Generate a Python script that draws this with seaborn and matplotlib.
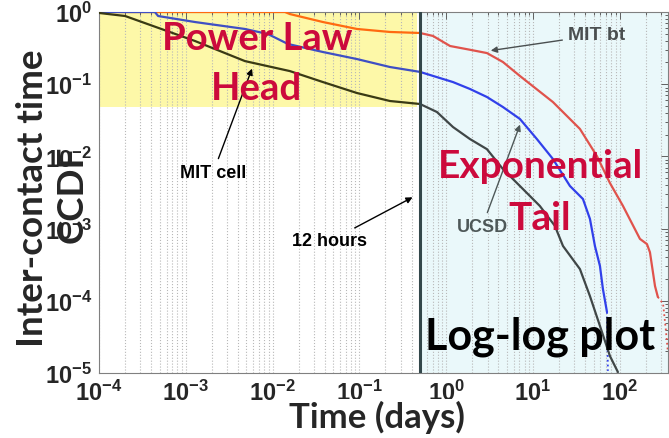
import matplotlib
matplotlib.use("Agg")
import matplotlib.pyplot as plt
import seaborn as sns
import pandas as pd
from matplotlib.patches import Rectangle
from matplotlib.ticker import LogLocator, NullFormatter

# ---------------- data ----------------
mit_cell_t = [1.0e-4, 2.0e-4, 1.28e-3, 4.8e-3, 0.0158, 0.0381, 0.0938, 0.225, 0.50,
              0.783, 1.20, 1.88, 2.95, 4.51, 7.08, 12.0, 17.9, 22.2, 34.8, 45.4,
              59.2, 77.1, 95.3]
mit_cell_p = [0.97, 0.88, 0.396, 0.209, 0.152, 0.107, 0.0755, 0.0585, 0.0532,
              0.0412, 0.0255, 0.0174, 0.0126, 0.00668, 0.00389, 0.00206, 0.00109,
              5.74e-4, 2.75e-4, 1.16e-4, 4.48e-5, 1.72e-5, 1.03e-5]

ucsd_t = [1.0e-4, 4.4e-4, 4.8e-4, 1.28e-3, 4.8e-3, 8.85e-3, 0.0150, 0.0381, 0.0938,
          0.225, 0.50, 1.20, 1.88, 2.95, 4.51, 7.08, 11.1, 17.0, 26.7, 37.7, 45.4,
          51.8, 59.2, 64.0, 71.3, 73.1]
ucsd_p = [1.0, 1.0, 0.88, 0.726, 0.582, 0.495, 0.361, 0.279, 0.223, 0.173, 0.148,
          0.107, 0.0859, 0.0665, 0.0483, 0.0330, 0.0174, 0.0092, 0.00389, 0.00257,
          0.00136, 5.74e-4, 3.03e-4, 1.46e-4, 7.0e-5, 1.07e-5]

mit_bt_t = [1.0e-4, 0.0139, 0.0158, 0.0381, 0.0938, 0.225, 0.50, 0.705, 1.11, 1.88,
            2.95, 4.51, 7.08, 17.0, 34.8, 54.6, 77.1, 109.0, 171.0, 206.0, 223.0,
            255.0, 275.0, 316.0, 339.0, 359.0]
mit_bt_p = [1.0, 1.0, 0.937, 0.726, 0.582, 0.529, 0.512, 0.466, 0.338, 0.30, 0.27,
            0.203, 0.130, 0.0566, 0.0240, 0.0101, 0.00428, 0.00206, 7.2e-4, 6.1e-4,
            4.7e-4, 1.6e-4, 1.13e-4, 9.1e-5, 4.1e-5, 1.95e-5]

# number of trailing points drawn as a dotted tail
ucsd_dotted = 1
mit_bt_dotted = 3

x_ticks = [1e-4, 1e-3, 1e-2, 1e-1, 1e0, 1e1, 1e2]
y_ticks = [1e-5, 1e-4, 1e-3, 1e-2, 1e-1, 1e0]
split_day = 0.5          # 12 hours
head_floor = 0.048       # bottom of the power-law head box

# ---------------- style ----------------
sns.set_theme(style="white")
plt.rcParams['font.family'] = ['Liberation Sans', 'DejaVu Sans']
plt.rcParams['font.weight'] = 'bold'
plt.rcParams['mathtext.fontset'] = 'custom'
plt.rcParams['mathtext.rm'] = 'Liberation Sans:bold'
plt.rcParams['mathtext.it'] = 'Liberation Sans:bold'
plt.rcParams['mathtext.bf'] = 'Liberation Sans:bold'

W, H = 669, 439
fig = plt.figure(figsize=(W / 100, H / 100), dpi=100)
ax = fig.add_axes([99 / W, 1 - 374 / H, (668 - 99) / W, (374 - 13) / H])
ax.set_xscale('log')
ax.set_yscale('log')
ax.set_xlim(1e-4, 360)
ax.set_ylim(1e-5, 1.0)


def fp(x, y):
    return (x / W, 1 - y / H)


# shaded regions
ax.add_patch(Rectangle((1e-4, head_floor), 0.46 - 1e-4, 1.0 - head_floor,
                       facecolor='#FDF8A8', edgecolor='none', zorder=0.5))
ax.add_patch(Rectangle((split_day, 1e-5), 360 - split_day, 1.0,
                       facecolor='#EAF8FA', edgecolor='none', zorder=0.5))

ax.grid(True, axis='x', which='both', linestyle=':', color='#b8b8b8', lw=0.8, zorder=1)
ax.grid(False, axis='y')


def draw(ts, ps, c_head, c_tail, n_dot=0, lw=1.6):
    head = pd.DataFrame({'t': [t for t in ts if t <= split_day],
                         'p': [p for t, p in zip(ts, ps) if t <= split_day]})
    tail_t = [t for t in ts if t >= split_day]
    tail_p = [p for t, p in zip(ts, ps) if t >= split_day]
    n = len(tail_t)
    solid = pd.DataFrame({'t': tail_t[:n - n_dot], 'p': tail_p[:n - n_dot]})
    sns.lineplot(data=head, x='t', y='p', ax=ax, color=c_head, lw=lw,
                 estimator=None, sort=False, zorder=3)
    sns.lineplot(data=solid, x='t', y='p', ax=ax, color=c_tail, lw=lw,
                 estimator=None, sort=False, zorder=3)
    if n_dot:
        dot = pd.DataFrame({'t': tail_t[n - n_dot - 1:], 'p': tail_p[n - n_dot - 1:]})
        sns.lineplot(data=dot, x='t', y='p', ax=ax, color=c_tail, lw=1.3,
                     linestyle=':', estimator=None, sort=False, zorder=3)


draw(mit_bt_t, mit_bt_p, '#FF6A10', '#E0534C', mit_bt_dotted)
draw(ucsd_t, ucsd_p, '#3F4FC4', '#3140EA', ucsd_dotted)
draw(mit_cell_t, mit_cell_p, '#3A3A14', '#404747', 0)

ax.axvline(split_day, color='#33474A', lw=2.2, zorder=4)

# axes styling
ax.set_xticks(x_ticks)
ax.set_yticks(y_ticks)
ax.xaxis.set_minor_locator(LogLocator(base=10, subs=range(2, 10), numticks=20))
ax.yaxis.set_minor_locator(LogLocator(base=10, subs=range(2, 10), numticks=20))
ax.xaxis.set_minor_formatter(NullFormatter())
ax.yaxis.set_minor_formatter(NullFormatter())
ax.tick_params(which='both', direction='in', top=True, right=True,
               color='#606060', width=0.7)
ax.tick_params(which='major', length=5, labelsize=17)
ax.tick_params(which='minor', length=2.5)
ax.tick_params(axis='x', which='major', pad=5)
ax.tick_params(axis='y', which='major', pad=5)
for lab in ax.get_xticklabels() + ax.get_yticklabels():
    lab.set_fontweight('bold')
for s in ax.spines.values():
    s.set_color('#808080')
    s.set_linewidth(0.8)
ax.set_xlabel('')
ax.set_ylabel('')

# axis titles
big = ['Lato', 'DejaVu Sans']
fig.text(*fp(43, 198), 'Inter-contact time', rotation=90, rotation_mode='anchor',
         ha='center', va='baseline', fontsize=26.5, fontweight='bold', family=big)
fig.text(*fp(83, 194), 'CCDF', rotation=90, rotation_mode='anchor',
         ha='center', va='baseline', fontsize=26.5, fontweight='bold', family=big)
fig.text(*fp(377, 428), 'Time (days)', ha='center', va='baseline',
         fontsize=25, fontweight='bold', family=big, zorder=20,
         bbox=dict(facecolor='white', edgecolor='none', pad=0.5))

# region captions
crimson = '#CC0A3C'
fig.text(*fp(257, 50), 'Power Law', ha='center', va='baseline', fontsize=27.5,
         fontweight='bold', color=crimson, family=big, zorder=10)
fig.text(*fp(257, 100), 'Head', ha='center', va='baseline', fontsize=27.5,
         fontweight='bold', color=crimson, family=big, zorder=10)
fig.text(*fp(540, 178), 'Exponential', ha='center', va='baseline', fontsize=28,
         fontweight='bold', color=crimson, family=big, zorder=10)
fig.text(*fp(540, 230), 'Tail', ha='center', va='baseline', fontsize=28,
         fontweight='bold', color=crimson, family=big, zorder=10)
fig.text(*fp(540, 350), 'Log-log plot', ha='center', va='baseline', fontsize=31,
         fontweight='bold', color='black', family=big, zorder=10)

# annotations with arrows
arrow = dict(arrowstyle='-|>', lw=1.0, mutation_scale=9)
ax.annotate('MIT bt', xy=fp(488, 52), xycoords='figure fraction',
            xytext=fp(597, 36), textcoords='figure fraction', ha='center', va='center',
            fontsize=14, fontweight='bold', color='#4A4F50',
            arrowprops=dict(arrow, color='#4A4F50'), zorder=10)
ax.annotate('MIT cell', xy=fp(253, 67), xycoords='figure fraction',
            xytext=fp(213, 174), textcoords='figure fraction', ha='center', va='center',
            fontsize=13, fontweight='bold', color='black',
            arrowprops=dict(arrow, color='black'), zorder=10)
ax.annotate('12 hours', xy=fp(415, 197), xycoords='figure fraction',
            xytext=fp(330, 242), textcoords='figure fraction', ha='center', va='center',
            fontsize=13, fontweight='bold', color='black',
            arrowprops=dict(arrow, color='black'), zorder=10)
ax.annotate('UCSD', xy=fp(521, 123), xycoords='figure fraction',
            xytext=fp(482, 228), textcoords='figure fraction', ha='center', va='center',
            fontsize=13, fontweight='bold', color='#4E5858',
            arrowprops=dict(arrow, color='#4E5858'), zorder=10)

fig.savefig('out.png', dpi=100)
